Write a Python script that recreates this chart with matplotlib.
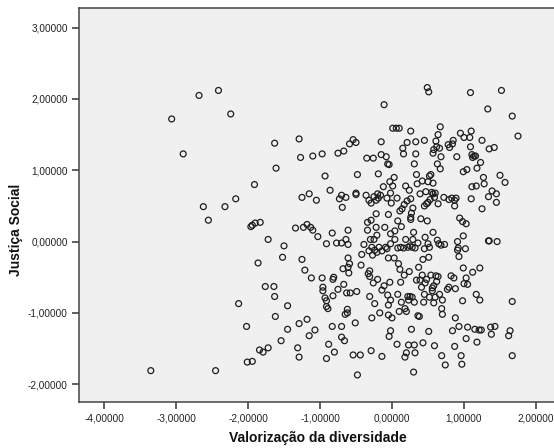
import matplotlib
matplotlib.use("Agg")
import matplotlib.pyplot as plt
from matplotlib.ticker import FuncFormatter

# Valorização da diversidade (x) and Justiça Social (y) scores
valorizacao = [
    -3.35, -3.06, -2.90, -2.68, -2.62, -2.55, -2.45, -2.41, -2.32, -2.24,
    -2.17, -2.13, -2.02, -2.01, -1.94, -1.96, -1.94, -1.90, -1.83, -1.91,
    -1.86, -1.84, -1.79, -1.76, -1.72, -1.72, -1.64, -1.63, -1.63, -1.62,
    -1.61, -1.54, -1.52, -1.50, -1.45, -1.45, -1.34, -1.31, -1.29, -1.29,
    -1.29, -1.27, -1.25, -1.25, -1.23, -1.21, -1.18, -1.18, -1.15, -1.15,
    -1.13, -1.12, -1.10, -1.10, -1.07, -1.05, -1.03, -0.97, -0.97, -0.96,
    -0.96, -0.93, -0.93, -0.91, -0.91, -0.91, -0.89, -0.91, -0.88, -0.86,
    -0.83, -0.83, -0.82, -0.82, -0.81, -0.80, -0.77, -0.75, -0.75, -0.73,
    -0.70, -0.70, -0.70, -0.70, -0.69, -0.68, -0.67, -0.67, -0.66, -0.65,
    -0.64, -0.64, -0.63, -0.62, -0.62, -0.61, -0.61, -0.61, -0.61, -0.60,
    -0.59, -0.58, -0.59, -0.54, -0.54, -0.51, -0.50, -0.50, -0.50, -0.49,
    -0.48, -0.48, -0.44, -0.43, -0.42, -0.39, -0.36, -0.35, -0.34, -0.34,
    -0.33, -0.32, -0.32, -0.31, -0.31, -0.31, -0.30, -0.29, -0.29, -0.29,
    -0.28, -0.28, -0.27, -0.26, -0.26, -0.25, -0.25, -0.24, -0.24, -0.22,
    -0.22, -0.22, -0.21, -0.21, -0.20, -0.20, -0.19, -0.19, -0.18, -0.17,
    -0.16, -0.15, -0.15, -0.14, -0.14, -0.14, -0.11, -0.12, -0.11, -0.10,
    -0.09, -0.08, -0.07, -0.07, -0.06, -0.06, -0.05, -0.05, -0.05, -0.05,
    -0.04, -0.04, -0.03, -0.03, -0.02, -0.02, -0.02, -0.02, -0.01, -0.02,
    0.00, 0.01, 0.01, 0.03, 0.03, 0.04, 0.04, 0.06, 0.07, 0.08,
    0.07, 0.08, 0.08, 0.09, 0.10, 0.10, 0.11, 0.11, 0.12, 0.12,
    0.13, 0.13, 0.14, 0.15, 0.16, 0.16, 0.17, 0.17, 0.18, 0.18,
    0.19, 0.19, 0.20, 0.20, 0.21, 0.21, 0.22, 0.22, 0.23, 0.23,
    0.24, 0.24, 0.25, 0.25, 0.26, 0.26, 0.26, 0.26, 0.27, 0.27,
    0.28, 0.28, 0.29, 0.29, 0.30, 0.30, 0.31, 0.31, 0.31, 0.32,
    0.32, 0.33, 0.33, 0.34, 0.34, 0.35, 0.36, 0.36, 0.37, 0.38,
    0.39, 0.39, 0.40, 0.41, 0.42, 0.42, 0.43, 0.43, 0.44, 0.45,
    0.45, 0.45, 0.45, 0.46, 0.46, 0.47, 0.48, 0.48, 0.49, 0.49,
    0.50, 0.50, 0.50, 0.51, 0.51, 0.51, 0.52, 0.52, 0.52, 0.53,
    0.54, 0.54, 0.55, 0.56, 0.56, 0.57, 0.57, 0.57, 0.57, 0.58,
    0.58, 0.58, 0.59, 0.59, 0.60, 0.60, 0.61, 0.61, 0.62, 0.62,
    0.63, 0.63, 0.64, 0.64, 0.64, 0.65, 0.66, 0.66, 0.67, 0.67,
    0.68, 0.68, 0.69, 0.69, 0.70, 0.70, 0.72, 0.73, 0.74, 0.77,
    0.78, 0.79, 0.79, 0.80, 0.82, 0.83, 0.84, 0.84, 0.85, 0.86,
    0.87, 0.87, 0.87, 0.88, 0.88, 0.89, 0.90, 0.91, 0.91, 0.92,
    0.93, 0.93, 0.94, 0.95, 0.96, 0.97, 0.98, 0.98, 0.99, 0.99,
    0.99, 1.00, 1.00, 1.02, 1.03, 1.03, 1.03, 1.04, 1.05, 1.05,
    1.08, 1.09, 1.09, 1.10, 1.10, 1.11, 1.11, 1.12, 1.12, 1.14,
    1.15, 1.16, 1.17, 1.17, 1.18, 1.18, 1.21, 1.22, 1.22, 1.23,
    1.24, 1.25, 1.25, 1.27, 1.28, 1.33, 1.34, 1.34, 1.35, 1.35,
    1.37, 1.38, 1.39, 1.42, 1.43, 1.45, 1.45, 1.46, 1.50, 1.52,
    1.57, 1.62, 1.64, 1.67, 1.67, 1.67, 1.75,
]

justica = [
    -1.81, 1.72, 1.23, 2.05, 0.49, 0.30, -1.81, 2.12, 0.49, 1.79,
    0.60, -0.87, -1.19, -1.69, -1.68, 0.21, 0.23, 0.26, 0.27, 0.80,
    -0.30, -1.52, -1.55, -0.63, 0.03, -1.49, -0.63, 1.38, -0.77, -1.05,
    1.03, -1.39, -0.22, -0.06, -0.90, -1.23, 0.19, -1.49, 1.44, -1.15,
    -1.62, 1.18, 0.62, -0.25, 0.20, -0.40, -1.09, 0.24, 0.67, -1.32,
    0.20, -0.51, 1.20, 0.16, -1.24, 0.58, 0.07, -0.51, 1.23, -0.64,
    -0.69, 0.92, -0.79, -0.83, -0.03, -0.91, -0.94, -1.64, -1.44, 0.72,
    -1.19, 0.12, -0.76, -0.53, -0.50, -1.55, -0.02, 1.24, -0.67, 0.60,
    0.65, -0.02, -1.34, -1.19, 0.48, -0.38, 1.27, -0.60, -1.39, -1.02,
    0.03, 0.62, -0.72, -0.95, -1.00, 0.16, -0.36, -0.04, -0.23, -0.44,
    -0.31, -0.72, 1.37, -1.59, 1.43, -1.14, 1.39, 0.68, 0.66, -0.70,
    -1.87, 0.94, -1.59, -0.33, -0.18, -0.04, 0.65, 1.17, 0.27, 0.16,
    -0.45, 0.58, -0.13, -0.49, -0.41, -0.77, 0.03, 0.30, 0.54, -1.53,
    -1.07, -0.08, -0.19, 1.17, -0.58, 0.03, 0.63, -0.87, -0.12, 0.39,
    0.20, 0.58, -0.15, 0.09, -0.53, 0.67, 0.95, 0.61, -0.08, -1.00,
    0.65, 1.40, 1.22, -1.61, -0.68, -0.13, 1.92, 0.77, -0.62, 0.20,
    -0.08, 1.19, 0.61, -0.10, 1.09, -0.75, 0.38, -0.89, -1.03, -0.23,
    1.08, -1.33, 0.84, -0.57, -0.82, 0.11, 0.68, -0.03, 0.54, -1.25,
    -1.07, 0.78, 1.59, -0.23, 0.90, 0.15, 0.03, 1.59, 0.61, 0.29,
    -1.44, -0.09, -0.74, -0.31, -0.98, 1.59, 0.43, -0.39, -0.08, -0.57,
    0.21, -0.85, 0.46, 1.31, 1.23, -0.09, 0.52, -0.47, -0.94, -1.62,
    0.03, 0.78, -0.98, -1.56, 0.57, 1.39, -0.08, -0.77, -1.45, -0.82,
    0.72, -0.42, -0.06, -0.77, 0.60, 0.31, 1.55, 0.34, -1.23, 0.40,
    -0.08, -0.78, 0.47, 0.03, 0.13, -1.83, 1.09, -0.85, -1.45, -1.56,
    -0.09, 1.23, 1.40, 0.94, -0.54, 0.81, -0.02, -1.04, -0.36, -1.05,
    -0.54, 0.67, 0.32, -0.64, 0.85, -0.47, -1.42, -0.25, -0.85, 1.42,
    -0.10, 0.50, -0.74, -0.58, 0.06, 0.70, 0.53, -0.53, 2.16, 0.29,
    -0.03, 0.84, 0.55, -1.26, 2.10, -0.22, -0.78, 0.92, -0.08, 0.59,
    0.94, -0.47, 0.69, -0.65, -0.69, 0.13, 1.24, 0.67, 0.82, -0.86,
    1.29, -0.62, -1.46, 0.62, 0.68, -0.78, -0.48, 1.41, -0.56, 1.33,
    0.02, 1.09, 1.50, 0.53, -0.49, -0.03, 1.31, -0.74, 1.02, 1.61,
    1.19, -0.05, -0.94, -1.60, -1.02, -0.82, 0.62, -0.04, -1.73, -0.67,
    1.36, 0.59, -0.64, 1.32, -0.48, 0.61, -1.25, 1.37, 1.42, -0.51,
    0.58, 0.50, -1.47, -1.07, -0.66, 0.61, 1.19, 0.00, -0.12, -0.09,
    -1.19, -0.21, 0.33, 1.52, -1.60, -1.72, -0.83, 0.28, -0.37, 0.98,
    0.08, 1.46, -0.59, -0.10, -1.36, -0.51, 0.25, 1.01, -0.60, -1.20,
    1.46, 2.09, 1.33, 0.60, 1.55, 0.77, 1.22, -0.43, 1.18, 1.20,
    -1.23, 1.20, -0.74, 0.78, 1.03, -1.41, -1.24, -0.37, -0.82, 1.11,
    -1.24, 0.46, 1.42, 0.90, 0.81, 1.86, 0.63, 0.01, 0.01, 1.30,
    -1.20, -1.30, 0.71, 1.32, -1.19, 0.67, 0.55, 0.00, 0.93, 2.12,
    0.83, -1.32, -1.25, 1.76, -0.84, -1.60, 1.48,
]

x_ticks = [-4, -3, -2, -1, 0, 1, 2]
y_ticks = [-2, -1, 0, 1, 2, 3]
x_label = "Valorização da diversidade"
y_label = "Justiça Social"

plt.rcParams["font.family"] = ["Liberation Sans", "DejaVu Sans"]

W, H = 554, 448
fig = plt.figure(figsize=(W / 100, H / 100), dpi=100, facecolor="white")
ax = fig.add_axes([79 / W, 1 - 402.3 / H, (W - 79) / W, (402.3 - 8.3) / H])
ax.set_facecolor("#f0f0f0")

ax.scatter(valorizacao, justica, s=18, facecolors="none",
           edgecolors="#1e1e1e", linewidths=0.9, zorder=3)

ax.set_xlim(-4.347, 2.25)
ax.set_ylim(-2.254, 3.272)
ax.set_xticks(x_ticks)
ax.set_yticks(y_ticks)

fmt = FuncFormatter(lambda v, _: f"{v:.5f}".replace(".", ","))
ax.xaxis.set_major_formatter(fmt)
ax.yaxis.set_major_formatter(fmt)

ax.tick_params(axis="both", direction="out", length=5, width=1.1,
               color="#333333", labelsize=7.2, labelcolor="#222222", pad=3)

for side in ("left", "bottom", "top"):
    ax.spines[side].set_color("#444444")
    ax.spines[side].set_linewidth(1.1)
ax.spines["right"].set_visible(False)

fig.text(318 / W, 1 - 438 / H, x_label, ha="center", va="center",
         fontsize=10, fontweight="bold", color="#111111")
fig.text(16 / W, 1 - 230 / H, y_label, ha="center", va="center",
         rotation=90, fontsize=10, fontweight="bold", color="#111111")

fig.savefig("out.png", dpi=100, facecolor="white")
